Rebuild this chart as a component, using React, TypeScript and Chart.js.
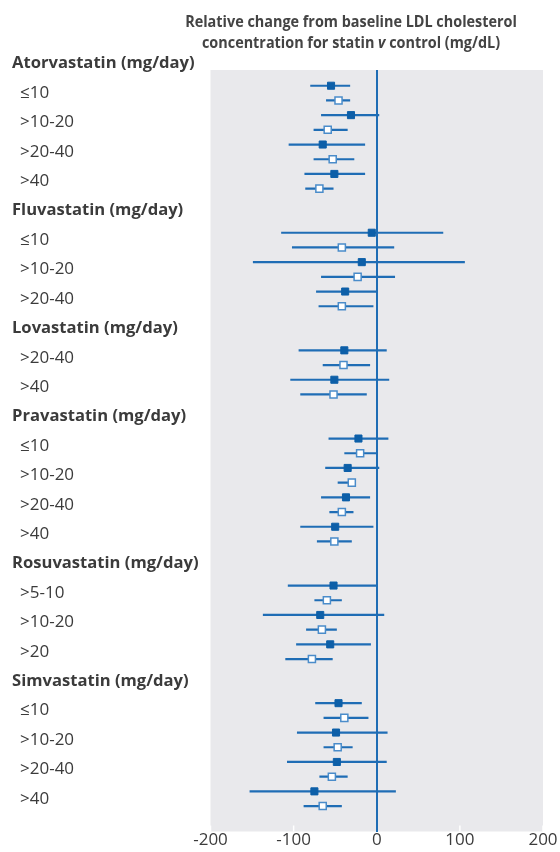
import React, { useEffect, useRef } from 'react';
import Chart from 'chart.js/auto';

// Drug groups and dose bands (left-hand labels)
const drugs = [
  'Atorvastatin (mg/day)',
  'Fluvastatin (mg/day)',
  'Lovastatin (mg/day)',
  'Pravastatin (mg/day)',
  'Rosuvastatin (mg/day)',
  'Simvastatin (mg/day)',
];
const atorvastatinDoses = ['≤10', '>10-20', '>20-40', '>40'];
const fluvastatinDoses = ['≤10', '>10-20', '>20-40'];
const lovastatinDoses = ['>20-40', '>40'];
const pravastatinDoses = ['≤10', '>10-20', '>20-40', '>40'];
const rosuvastatinDoses = ['>5-10', '>10-20', '>20'];
const simvastatinDoses = ['≤10', '>10-20', '>20-40', '>40'];
const doseGroups = [
  atorvastatinDoses,
  fluvastatinDoses,
  lovastatinDoses,
  pravastatinDoses,
  rosuvastatinDoses,
  simvastatinDoses,
];

// Filled squares (upper row of each dose band), mg/dL
const filledMean = [-55, -31, -65, -51, -6, -18, -38, -39, -51, -22, -35, -37, -50, -52, -68, -56, -46, -49, -48, -75];
const filledLow = [-80, -67, -106, -87, -115, -149, -73, -94, -104, -58, -62, -67, -92, -107, -137, -97, -74, -96, -108, -153];
const filledHigh = [-32, 3, -14, -14, 80, 106, 1, 12, 15, 14, 3, -8, -4, 1, 9, -7, -18, 13, 12, 23];

// Open squares (lower row of each dose band), mg/dL
const openMean = [-46, -59, -53, -69, -42, -23, -42, -40, -52, -20, -30, -42, -51, -60, -66, -78, -39, -47, -54, -65];
const openLow = [-61, -76, -76, -86, -102, -67, -70, -65, -92, -39, -47, -57, -72, -75, -85, -110, -64, -64, -69, -88];
const openHigh = [-32, -35, -27, -52, 21, 22, -4, -8, -12, 1, -26, -28, -30, -42, -48, -53, -10, -29, -35, -42];

const xTicks = [-200, -100, 0, 100, 200];

const BLUE = '#1f6db5';
const DARK_BLUE = '#0d5fa8';
const OPEN_BORDER = '#4a8cca';
const TEXT = '#3b3b3b';
const PANEL = '#e9e9ec';
const FONT = '"Open Sans", "Noto Sans", sans-serif';

type Slot = { text: string; heading: boolean; pos: number };

const slots: Slot[] = [];
const filledRows: number[] = [];
const openRows: number[] = [];
let slot = 0;
drugs.forEach((drug, g) => {
  slots.push({ text: drug, heading: true, pos: 2 * slot - 1.5 });
  slot++;
  doseGroups[g].forEach((dose) => {
    slots.push({ text: dose, heading: false, pos: 2 * slot - 1.5 });
    filledRows.push(2 * slot - 2);
    openRows.push(2 * slot - 1);
    slot++;
  });
});

const ciData = (low: number[], high: number[], rows: number[]) =>
  rows.flatMap((y, i) => [
    { x: low[i], y },
    { x: high[i], y },
    { x: null, y },
  ]);

const panelPlugin = {
  id: 'panel',
  beforeDraw(chart: any) {
    const { ctx, chartArea, scales } = chart;
    ctx.save();
    ctx.fillStyle = PANEL;
    ctx.fillRect(chartArea.left, chartArea.top, chartArea.right - chartArea.left, chartArea.bottom - chartArea.top);
    // small white tick marks along the bottom edge
    ctx.strokeStyle = '#ffffff';
    ctx.lineWidth = 1.5;
    scales.x.ticks.forEach((t: any) => {
      if (t.value === 0) return;
      const px = scales.x.getPixelForValue(t.value);
      ctx.beginPath();
      ctx.moveTo(px, chartArea.bottom - 6);
      ctx.lineTo(px, chartArea.bottom);
      ctx.stroke();
    });
    ctx.restore();
  },
};

// draws mixed-style text centred on cx, squeezed horizontally
function drawLine(ctx: any, parts: { t: string; f: string }[], cx: number, y: number, squeeze: number) {
  let total = 0;
  parts.forEach((p) => {
    ctx.font = p.f;
    total += ctx.measureText(p.t).width;
  });
  ctx.save();
  ctx.translate(cx, y);
  ctx.scale(squeeze, 1);
  let x = -total / 2;
  parts.forEach((p) => {
    ctx.font = p.f;
    ctx.fillText(p.t, x, 0);
    x += ctx.measureText(p.t).width;
  });
  ctx.restore();
}

const labelPlugin = {
  id: 'labels',
  afterDraw(chart: any) {
    const { ctx, scales } = chart;
    ctx.save();
    ctx.fillStyle = TEXT;
    ctx.textBaseline = 'middle';
    ctx.textAlign = 'left';
    slots.forEach((s) => {
      const y = scales.y.getPixelForValue(s.pos);
      ctx.font = s.heading ? `bold 16.6px ${FONT}` : `17px ${FONT}`;
      ctx.fillText(s.text, s.heading ? 12 : 20, y);
    });

    // title, with italic "v"
    const bold = `bold 16px ${FONT}`;
    ctx.fillStyle = '#444444';
    drawLine(ctx, [{ t: 'Relative change from baseline LDL cholesterol', f: bold }], 351, 22, 0.9);
    drawLine(
      ctx,
      [
        { t: 'concentration for statin ', f: bold },
        { t: 'v', f: `italic bold 16px ${FONT}` },
        { t: ' control (mg/dL)', f: bold },
      ],
      351,
      43.5,
      0.9
    );
    ctx.restore();
  },
};

const App: React.FC = () => {
  const chartRef = useRef<HTMLCanvasElement>(null);
  const chartInstance = useRef<Chart | null>(null);

  useEffect(() => {
    if (!chartRef.current) return;
    if (chartInstance.current) chartInstance.current.destroy();

    chartInstance.current = new Chart(chartRef.current, {
      type: 'scatter',
      data: {
        datasets: [
          {
            label: 'Filled',
            data: filledMean.map((x, i) => ({ x, y: filledRows[i] })),
            pointStyle: 'rect',
            pointRadius: 5,
            backgroundColor: DARK_BLUE,
            borderColor: DARK_BLUE,
            borderWidth: 1,
            order: 0,
          },
          {
            label: 'Open',
            data: openMean.map((x, i) => ({ x, y: openRows[i] })),
            pointStyle: 'rect',
            pointRadius: 5,
            backgroundColor: '#ffffff',
            borderColor: OPEN_BORDER,
            borderWidth: 1.5,
            order: 0,
          },
          {
            label: 'Filled CI',
            data: ciData(filledLow, filledHigh, filledRows) as any,
            showLine: true,
            spanGaps: false,
            borderColor: BLUE,
            borderWidth: 2.2,
            pointRadius: 0,
            order: 1,
          },
          {
            label: 'Open CI',
            data: ciData(openLow, openHigh, openRows) as any,
            showLine: true,
            spanGaps: false,
            borderColor: BLUE,
            borderWidth: 2.2,
            pointRadius: 0,
            order: 1,
          },
        ],
      },
      options: {
        responsive: true,
        maintainAspectRatio: false,
        animation: false,
        events: [],
        layout: { padding: { top: 70, left: 210.5, right: 17, bottom: 0 } },
        plugins: {
          legend: { display: false },
          tooltip: { enabled: false },
        },
        scales: {
          x: {
            type: 'linear',
            min: -200,
            max: 200,
            afterBuildTicks: (s: any) => {
              s.ticks = xTicks.map((value) => ({ value }));
            },
            afterFit: (s: any) => {
              s.height = 20.5;
              s.paddingLeft = 0;
              s.paddingRight = 0;
            },
            ticks: {
              color: TEXT,
              padding: 0,
              maxRotation: 0,
              font: { family: FONT, size: 17, lineHeight: 1 },
            },
            grid: {
              color: (c: any) => (c.tick && c.tick.value === 0 ? BLUE : 'rgba(0,0,0,0)'),
              lineWidth: 2,
              drawTicks: false,
            },
            border: { display: false },
          },
          y: {
            type: 'linear',
            display: false,
            reverse: true,
            min: -1.07,
            max: 50.73,
          },
        },
      },
      plugins: [panelPlugin, labelPlugin],
    });

    return () => {
      if (chartInstance.current) {
        chartInstance.current.destroy();
        chartInstance.current = null;
      }
    };
  }, []);

  return (
    <div style={{ position: 'fixed', left: 0, top: 0, width: 560, height: 852, background: '#fff' }}>
      <canvas ref={chartRef} />
    </div>
  );
};

export default App;
